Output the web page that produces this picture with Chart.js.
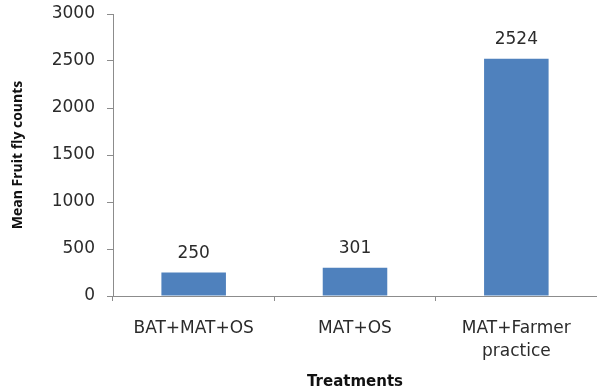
<!DOCTYPE html>
<html>
<head>
<meta charset="utf-8">
<script src="https://cdn.jsdelivr.net/npm/chart.js@4.4.1/dist/chart.umd.min.js"></script>
<style>
  html, body { margin: 0; padding: 0; background: #fff; }
  #wrap { width: 597px; height: 391px; }
</style>
</head>
<body>
<div id="wrap"><canvas id="c" width="597" height="391"></canvas></div>
<script>
// Treatments and their mean fruit fly counts
const categories = [["BAT+MAT+OS"], ["MAT+OS"], ["MAT+Farmer", "practice"]];
const meanCounts = [250, 301, 2524];
const yTicks = [0, 500, 1000, 1500, 2000, 2500, 3000];

const FONT = "'DejaVu Sans', sans-serif";
const TITLE_FONT = "'Open Sans', 'DejaVu Sans', sans-serif";
const TEXT = '#2b2b2b';
const AXIS = '#8c8c8c';

// Draws each bar's value above it, positioned through the chart's scales
const valueLabels = {
  id: 'valueLabels',
  afterDatasetsDraw(chart) {
    const ctx = chart.ctx;
    const meta = chart.getDatasetMeta(0);
    const y = chart.scales.y;
    ctx.save();
    ctx.font = "17px " + FONT;
    ctx.fillStyle = TEXT;
    ctx.textAlign = 'center';
    ctx.textBaseline = 'alphabetic';
    meta.data.forEach((bar, i) => {
      ctx.fillText(String(meanCounts[i]), bar.x, y.getPixelForValue(meanCounts[i]) - 15);
    });
    ctx.restore();
  }
};

new Chart(document.getElementById('c'), {
  type: 'bar',
  data: {
    labels: categories,
    datasets: [{
      data: meanCounts,
      backgroundColor: '#4f81bd',
      borderWidth: 0,
      barPercentage: 0.4,
      categoryPercentage: 1.0
    }]
  },
  options: {
    responsive: false,
    animation: false,
    devicePixelRatio: 1,
    layout: { padding: { top: 14, right: 0, bottom: 0, left: 0 } },
    plugins: { legend: { display: false }, tooltip: { enabled: false } },
    scales: {
      x: {
        grid: { drawOnChartArea: false, offset: true, tickLength: 5, color: AXIS },
        border: { color: AXIS, width: 1 },
        ticks: { color: TEXT, font: { family: FONT, size: 17, lineHeight: 1.3 }, padding: 17, maxRotation: 0 },
        title: { display: true, text: 'Treatments', color: '#111', font: { family: FONT, size: 15, weight: 'bold' }, padding: { top: 6, bottom: 0 } },
        afterFit(scale) { scale.height = 95; scale.paddingLeft = 0; scale.paddingRight = 0; }
      },
      y: {
        min: 0, max: 3000,
        afterBuildTicks(scale) { scale.ticks = yTicks.map(v => ({ value: v })); },
        grid: { drawOnChartArea: false, tickLength: 6, color: AXIS },
        border: { color: AXIS, width: 1 },
        ticks: { color: TEXT, font: { family: FONT, size: 17 }, padding: 12, callback: v => String(v) },
        title: { display: true, text: 'Mean Fruit fly counts', color: '#111', font: { family: TITLE_FONT, size: 14, weight: 'bold' }, padding: { top: 10, bottom: 0 } },
        afterFit(scale) { scale.width = 113; scale.paddingTop = 0; scale.paddingBottom = 0; }
      }
    }
  },
  plugins: [valueLabels]
});
</script>
</body>
</html>
